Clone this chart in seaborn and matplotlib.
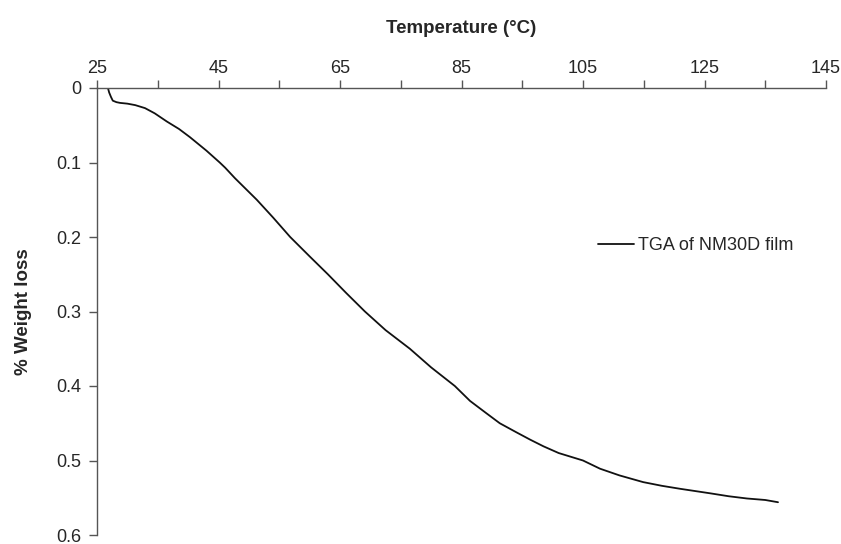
import matplotlib
matplotlib.use("Agg")
import matplotlib.pyplot as plt
import seaborn as sns
import pandas as pd
from matplotlib.ticker import FixedLocator, FuncFormatter

temperature = [26.8, 27.0, 27.3, 27.6, 28.2, 28.8, 30.0, 31.3, 32.9, 34.5, 36.5, 38.5, 40.3,
               43.0, 45.2, 46.1, 47.7, 51.3, 54.0, 56.8, 60.0, 63.0, 66.0, 69.1, 72.5,
               76.5, 80.0, 83.9, 86.4, 89.0, 91.3, 94.0, 96.3, 98.5, 101.0, 105.0,
               107.8, 111.0, 114.9, 118.0, 121.0, 125.9, 129.0, 132.0, 135.0, 137.1]
weight_loss = [0.000, 0.006, 0.012, 0.017, 0.019, 0.020, 0.021, 0.023, 0.027, 0.034, 0.045, 0.055, 0.066,
               0.084, 0.100, 0.107, 0.121, 0.150, 0.174, 0.200, 0.226, 0.250, 0.275, 0.300, 0.325,
               0.350, 0.375, 0.400, 0.420, 0.436, 0.450, 0.462, 0.472, 0.481, 0.490, 0.500,
               0.511, 0.520, 0.529, 0.534, 0.538, 0.544, 0.548, 0.551, 0.553, 0.556]
series_label = "TGA of NM30D film"
x_major_ticks = [25, 45, 65, 85, 105, 125, 145]
x_minor_ticks = [35, 55, 75, 95, 115, 135]
y_ticks = [0, 0.1, 0.2, 0.3, 0.4, 0.5, 0.6]

df = pd.DataFrame({"Temperature": temperature, "Weight": weight_loss,
                   "series": [series_label] * len(temperature)})

sns.set_style("white")
plt.rcParams["font.family"] = ["Liberation Sans", "DejaVu Sans"]

fig = plt.figure(figsize=(8.41, 5.44), dpi=100)
ax = fig.add_axes([97/841, 1 - 535/544, (826-97)/841, (535-88)/544])

sns.lineplot(data=df, x="Temperature", y="Weight", hue="series", palette=["#111111"],
             sort=False, estimator=None, linewidth=1.3, ax=ax)

ax.set_xlim(25, 145)
ax.set_ylim(0.6, 0)
ax.xaxis.tick_top()
ax.xaxis.set_label_position("top")
ax.xaxis.set_major_locator(FixedLocator(x_major_ticks))
ax.xaxis.set_minor_locator(FixedLocator(x_minor_ticks))
ax.yaxis.set_major_locator(FixedLocator(y_ticks))
ax.yaxis.set_major_formatter(FuncFormatter(lambda v, p: "0" if abs(v) < 1e-9 else f"{v:.1f}"))

for s in ["right", "bottom"]:
    ax.spines[s].set_visible(False)
for s in ["left", "top"]:
    ax.spines[s].set_color("#555555")
    ax.spines[s].set_linewidth(1.0)

ax.tick_params(axis="x", which="both", direction="out", length=6, width=1, color="#555555",
               labelsize=13, pad=2, top=True, bottom=False, labeltop=True, labelbottom=False)
ax.tick_params(axis="x", which="minor", labeltop=False)
ax.tick_params(axis="y", which="major", direction="out", length=6, width=1, color="#555555",
               labelsize=13, pad=5, left=True)

ax.set_xlabel("Temperature (°C)", fontsize=13.5, fontweight="bold", labelpad=19)
ax.set_ylabel("% Weight loss", fontsize=13.5, fontweight="bold", labelpad=18)

ax.legend(loc="center left", frameon=False, fontsize=13, handlelength=2.0,
          handletextpad=0.2, borderpad=0, borderaxespad=0,
          bbox_to_anchor=((598-97)/729, 1 - (246-88)/447))
ax.get_legend().set_title(None)

fig.savefig("out.png", dpi=100)
